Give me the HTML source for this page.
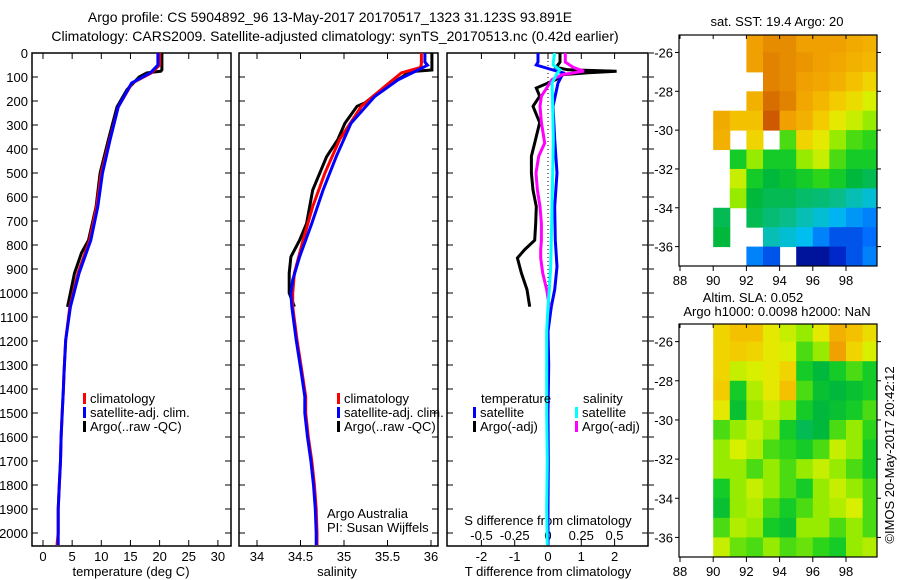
<!DOCTYPE html>
<html><head><meta charset="utf-8"><style>
html,body{margin:0;padding:0;background:#fff}
svg{display:block;font-family:"Liberation Sans",sans-serif}
text{fill:#000}
</style></head><body>
<svg id="c" width="900" height="580" viewBox="0 0 900 580" xmlns="http://www.w3.org/2000/svg">
<text x="330" y="22" font-size="14" text-anchor="middle">Argo profile: CS 5904892_96 13-May-2017 20170517_1323 31.123S 93.891E</text>
<text x="335" y="41" font-size="14" text-anchor="middle">Climatology: CARS2009. Satellite-adjusted climatology: synTS_20170513.nc (0.42d earlier)</text>
<text x="131" y="576" font-size="13" text-anchor="middle">temperature (deg C)</text>
<text x="337" y="576" font-size="13" text-anchor="middle">salinity</text>
<text x="548" y="576" font-size="13" text-anchor="middle">T difference from climatology</text>
<text x="548" y="525" font-size="13" text-anchor="middle">S difference from climatology</text>
<text x="327" y="518" font-size="13">Argo Australia</text>
<text x="327" y="532" font-size="13">PI: Susan Wijffels</text>
<text x="777" y="26" font-size="13" text-anchor="middle">sat. SST: 19.4 Argo: 20</text>
<text x="753" y="302" font-size="13" text-anchor="middle">Altim. SLA: 0.052</text>
<text x="777" y="316" font-size="13" text-anchor="middle">Argo h1000: 0.0098 h2000: NaN</text>
<text transform="translate(894,455) rotate(-90)" font-size="13" text-anchor="middle">©IMOS 20-May-2017 20:42:12</text>
</svg>
<script>
// ---- profile data ----
const tDepth = [0,50,83,125,225,363,500,640,780,917,1058,1196,1333,1400,1500,1600,1700,1800,1900,2000,2050];
const tSat   = [19.7,19.7,18.4,15.2,12.9,11.5,10.2,9.4,8.2,6.2,4.7,3.9,3.6,3.5,3.3,3.1,3.0,2.8,2.6,2.6,2.6];
const tClim  = [20.0,20.0,18.6,15.3,12.9,11.4,10.0,9.2,8.0,6.0,4.6,3.9,3.6,3.5,3.3,3.1,3.0,2.8,2.6,2.6,2.4];
const tArgoDepth = [0,70,76,83,100,153,225,363,500,640,780,833,917,1000,1058];
const tArgo      = [20.4,20.4,20.2,17.8,16.5,14.4,12.7,11.2,9.8,9.1,7.8,6.6,5.4,4.7,4.2];

const sDepth = [0,38,51,71,112,182,293,432,571,710,849,946,1001,1057,1196,1335,1432,1500,1600,1700,1800,1900,2000,2050];
const sSat   = [35.93,35.93,35.96,35.85,35.62,35.35,35.08,34.91,34.76,34.63,34.49,34.41,34.39,34.40,34.45,34.51,34.55,34.55,34.58,34.62,34.65,34.67,34.68,34.68];
const sClimDepth = [0,45,60,83,139,222,360,500,640,780,917,1000,1057,1196,1335,1432,1500,1600,1700,1800,1900,2000,2050];
const sClim  = [35.89,35.89,35.88,35.66,35.47,35.20,34.95,34.78,34.64,34.53,34.43,34.41,34.41,34.46,34.52,34.56,34.56,34.59,34.63,34.66,34.68,34.69,34.69];
const sArgoDepth = [0,71,78,97,153,208,222,293,360,432,571,710,780,849,917,1000,1057];
const sArgo  = [36.01,36.01,35.75,35.68,35.43,35.24,35.15,35.01,34.93,34.80,34.64,34.57,34.49,34.39,34.37,34.37,34.43];

const dDepth  = [0,38,50,71,83,125,222,360,500,640,780,890,986,1057,1160,1300,1500,1700,1900,2050];
const dTSat   = [-0.3,-0.3,-0.35,0.15,0.46,0.3,0.15,0.2,0.27,0.2,0.22,0.27,0.2,0.1,0.0,0.02,0.0,0.01,0.0,0.0];
const dSSat   = [0.05,0.04,0.04,0.09,0.07,0.03,0.035,0.04,0.035,0.03,0.025,0.02,0.01,0.0,-0.01,-0.01,-0.01,-0.005,-0.01,-0.005];
const dArgoDepth = [0,38,60,70,76,82,90,111,146,180,222,290,375,430,500,571,640,710,780,819,854,917,986,1057];
const dTArgo  = [0.36,0.36,0.24,0.6,2.06,1.2,0.46,0.24,-0.35,-0.25,-0.45,-0.25,-0.4,-0.5,-0.5,-0.45,-0.35,-0.37,-0.4,-0.7,-0.92,-0.8,-0.63,-0.55];
const dSArgo  = [0.13,0.13,0.19,0.24,0.27,0.2,0.11,0.03,-0.01,-0.05,-0.06,-0.05,-0.025,-0.07,-0.09,-0.08,-0.06,-0.05,-0.05,-0.055,-0.055,-0.04,-0.01,0.01];

const depthTicks = [0,100,200,300,400,500,600,700,800,900,1000,1100,1200,1300,1400,1500,1600,1700,1800,1900,2000];
const tTicks = [0,5,10,15,20,25,30];
const sTicks = [34,34.5,35,35.5,36];
const sTickLabels = ['34','34.5','35','35.5','36'];
const dTTicks = [-2,-1,0,1,2];
const dSTicks = [-0.5,-0.25,0,0.25,0.5];
const dSTickLabels = ['-0.5','-0.25','0','0.25','0.5'];

// ---- map data (1-degree cells, rows lat -25..-36, cols lon 88..99) ----
const mapLons = [88,89,90,91,92,93,94,95,96,97,98,99];
const mapLats = [-25,-26,-27,-28,-29,-30,-31,-32,-33,-34,-35,-36];
const n = null;
const sstGrid = [
[n,n,n,n,0.85,0.87,0.87,0.85,0.85,0.85,0.82,0.8],
[n,n,n,n,0.85,0.88,0.87,0.86,0.85,0.83,0.8,0.78],
[n,n,n,n,n,0.88,0.87,0.85,0.83,0.8,0.75,0.7],
[n,n,n,n,0.8,0.9,0.88,0.83,0.78,0.72,0.68,0.62],
[n,n,0.82,0.75,0.75,0.92,0.85,0.8,0.72,0.65,0.6,0.55],
[n,n,0.8,n,0.7,n,0.5,0.7,0.65,0.55,0.5,0.48],
[n,n,n,0.45,0.55,0.45,0.45,0.55,0.6,0.5,0.45,0.45],
[n,n,n,0.6,0.45,0.4,0.42,0.45,0.48,0.45,0.4,0.38],
[n,n,n,0.55,0.4,0.38,0.38,0.36,0.35,0.33,0.3,0.28],
[n,n,0.38,n,0.38,0.35,0.33,0.3,0.28,0.25,0.22,0.2],
[n,n,0.4,n,n,0.3,0.28,0.26,0.2,0.15,0.15,0.18],
[n,n,n,n,0.2,0.15,n,0.05,0.05,0.1,0.15,0.2]];
const slaGrid = [
[n,n,0.7,0.75,0.75,0.65,0.6,0.55,0.65,0.8,0.75,0.68],
[n,n,0.7,0.72,0.7,0.65,0.62,0.5,0.55,0.85,0.7,0.62],
[n,n,0.7,0.6,0.62,0.65,0.7,0.45,0.4,0.45,0.5,0.45],
[n,n,0.72,0.45,0.58,0.65,0.75,0.5,0.42,0.4,0.42,0.45],
[n,n,0.65,0.42,0.55,0.6,0.55,0.45,0.4,0.42,0.45,0.5],
[n,n,0.5,0.55,0.6,0.55,0.45,0.38,0.4,0.5,0.55,0.48],
[n,n,0.55,0.62,0.58,0.5,0.48,0.45,0.5,0.6,0.55,0.45],
[n,n,0.55,0.55,0.5,0.55,0.5,0.55,0.6,0.55,0.5,0.45],
[n,n,0.45,0.55,0.6,0.55,0.5,0.45,0.55,0.6,0.55,0.5],
[n,n,0.42,0.55,0.58,0.5,0.45,0.5,0.55,0.58,0.62,0.5],
[n,n,0.5,0.58,0.55,0.45,0.42,0.55,0.55,0.5,0.55,0.5],
[n,n,0.6,0.52,0.5,0.55,0.5,0.52,0.48,0.45,0.55,0.58]];
const lonTicks = [88,90,92,94,96,98];
const latTicks = [-26,-28,-30,-32,-34,-36];

const NS='http://www.w3.org/2000/svg';
const svg=document.getElementById('c');
function el(tag,attrs,parent){const e=document.createElementNS(NS,tag);for(const k in attrs)e.setAttribute(k,attrs[k]);(parent||svg).appendChild(e);return e;}

const yD = d => 53 + 0.24*d;
const PB = 546;
const xT = v => 43 + 5.83*v;
const xS = v => 257 + 87*(v-34);
const xDT = v => 548 + 33.3*v;
const xDS = v => 548 + 133*v;

function stepLine(depths, vals, xf, color, w, name, clip){
  let pts=[];
  for(let i=0;i<depths.length;i++){
    pts.push(xf(vals[i]).toFixed(1)+','+yD(depths[i]).toFixed(1));
  }
  const p=el('polyline',{points:pts.join(' '),fill:'none',stroke:color,'stroke-width':w,'stroke-linejoin':'miter','clip-path':'url(#'+clip+')'});
  
  
}

const defs=el('defs',{});
function clipRect(id,x,y,w,h){const c=el('clipPath',{id:id},defs);el('rect',{x:x,y:y,width:w,height:h},c);}
clipRect('cp1',32,53,199,493);clipRect('cp2',239,53,199,493);clipRect('cp3',447,53,201,493);
clipRect('cm1',679,35,198,231);clipRect('cm2',679,324,198,233);

function frame(x0,x1,name){
  const r=el('rect',{x:x0,y:53,width:x1-x0,height:PB-53,fill:'none',stroke:'#000','stroke-width':1.5});
  
  
  depthTicks.forEach(d=>{
    el('line',{x1:x0,x2:x0+6,y1:yD(d),y2:yD(d),stroke:'#000'});
    el('line',{x1:x1,x2:x1-6,y1:yD(d),y2:yD(d),stroke:'#000'});
  });
}
frame(32,231,'temperature-panel');frame(239,438,'salinity-panel');frame(447,648,'difference-panel');
depthTicks.forEach(d=>{
  const t=el('text',{x:28,y:yD(d)+5,'font-size':13,'text-anchor':'end'});t.textContent=d;
  
  
  el('line',{x1:649,x2:654,y1:yD(d),y2:yD(d),stroke:'#000'});
});
function xticks(vals,labels,xf,ly,name){
  vals.forEach((v,i)=>{
    const x=xf(v);
    el('line',{x1:x,x2:x,y1:53,y2:59,stroke:'#000'});
    el('line',{x1:x,x2:x,y1:PB,y2:PB-6,stroke:'#000'});
    const t=el('text',{x:x,y:ly,'font-size':13,'text-anchor':'middle'});t.textContent=labels[i];
    
    
  });
}
xticks(tTicks,tTicks.map(String),xT,561,'temperature-tick-label');
xticks(sTicks,sTickLabels,xS,561,'salinity-tick-label');
xticks(dTTicks,dTTicks.map(String),xDT,561,'t-diff-tick-label');
dSTicks.forEach((v,i)=>{const t=el('text',{x:xDS(v),y:540,'font-size':13,'text-anchor':'middle'});t.textContent=dSTickLabels[i];
  
  });

// zero dotted line
el('line',{x1:xDT(0),x2:xDT(0),y1:53,y2:PB,stroke:'#000','stroke-dasharray':'1,3'});

stepLine(tArgoDepth,tArgo,xT,'#000',3,'temperature-argo-line','cp1');
stepLine(tDepth,tClim,xT,'#f00',3,'temperature-climatology-line','cp1');
stepLine(tDepth,tSat,xT,'#00f',3,'temperature-satellite-line','cp1');
stepLine(sArgoDepth,sArgo,xS,'#000',3,'salinity-argo-line','cp2');
stepLine(sClimDepth,sClim,xS,'#f00',3,'salinity-climatology-line','cp2');
stepLine(sDepth,sSat,xS,'#00f',3,'salinity-satellite-line','cp2');
stepLine(dArgoDepth,dTArgo,xDT,'#000',3,'t-diff-argo-line','cp3');
stepLine(dDepth,dTSat,xDT,'#00f',3,'t-diff-satellite-line','cp3');
stepLine(dArgoDepth,dSArgo,xDS,'#f0f',3,'s-diff-argo-line','cp3');
stepLine(dDepth,dSSat,xDS,'#0ff',3,'s-diff-satellite-line','cp3');

function legend(x,y,color,label,name){
  const g=el('g',{});
  
  
  el('rect',{x:x,y:y-10,width:3,height:11,fill:color},g);
  const t=el('text',{x:x+7,y:y,'font-size':13},g);t.textContent=label;
}
legend(83,403,'#f00','climatology','legend-climatology');
legend(83,417,'#00f','satellite-adj. clim.','legend-satellite-adj');
legend(83,431,'#000','Argo(..raw -QC)','legend-argo');
legend(337,403,'#f00','climatology','legend-sal-climatology');
legend(337,417,'#00f','satellite-adj. clim.','legend-sal-satellite-adj');
legend(337,431,'#000','Argo(..raw -QC)','legend-sal-argo');
const th=el('text',{x:481,y:403,'font-size':13});th.textContent='temperature';


const sh=el('text',{x:583,y:403,'font-size':13});sh.textContent='salinity';


legend(473,417,'#00f','satellite','legend-t-satellite');
legend(473,431,'#000','Argo(-adj)','legend-t-argo');
legend(575,417,'#0ff','satellite','legend-s-satellite');
legend(575,431,'#f0f','Argo(-adj)','legend-s-argo');

// ---- maps ----
const stops=[[0,[0,0,110]],[0.1,[0,40,200]],[0.18,[0,110,255]],[0.26,[0,190,240]],[0.32,[10,190,150]],[0.4,[0,185,60]],[0.47,[30,210,30]],[0.55,[150,235,0]],[0.63,[225,240,0]],[0.73,[245,200,0]],[0.85,[240,160,0]],[0.95,[190,60,0]],[1,[150,20,0]]];
function cmap(v){
  for(let i=1;i<stops.length;i++){if(v<=stops[i][0]){const a=stops[i-1],b=stops[i],f=(v-a[0])/(b[0]-a[0]);
    return 'rgb('+a[1].map((c,j)=>Math.round(c+(b[1][j]-c)*f)).join(',')+')';}}
  return 'rgb(150,20,0)';
}
function drawMap(grid,top,bot,clip,name){
  const xL = lon => 680 + 16.6*(lon-88);
  const latTop = 25.1, latBot = 37.0;
  const yL = lat => top + (-lat-latTop)*(bot-top)/(latBot-latTop);
  const g=el('g',{'clip-path':'url(#'+clip+')'});
  
  
  grid.forEach((row,i)=>row.forEach((v,j)=>{
    if(v===null)return;
    const x=xL(mapLons[j]), y=yL(mapLats[i]);
    const r=el('rect',{x:x,y:y,width:16.6+0.5,height:yL(mapLats[i]-1)-y+0.5,fill:cmap(v)},g);
    
    
  }));
  el('rect',{x:679,y:top,width:198,height:bot-top,fill:'none',stroke:'#000','stroke-width':1.2});
  lonTicks.forEach(l=>{
    const x=xL(l);
    el('line',{x1:x,x2:x,y1:top,y2:top+4,stroke:'#000'});
    el('line',{x1:x,x2:x,y1:bot,y2:bot+5,stroke:'#000'});
    const t=el('text',{x:x,y:bot+19,'font-size':13,'text-anchor':'middle'});t.textContent=l;
    
    
  });
  latTicks.forEach(l=>{
    const y=yL(l);
    el('line',{x1:679,x2:675,y1:y,y2:y,stroke:'#000'});
    el('line',{x1:877,x2:881,y1:y,y2:y,stroke:'#000'});
    const t=el('text',{x:673,y:y+5,'font-size':13,'text-anchor':'end'});t.textContent=l;
    
    
  });
}
drawMap(sstGrid,35,266,'cm1','sst-map');
drawMap(slaGrid,324,557,'cm2','sla-map');
</script>
</body></html>
